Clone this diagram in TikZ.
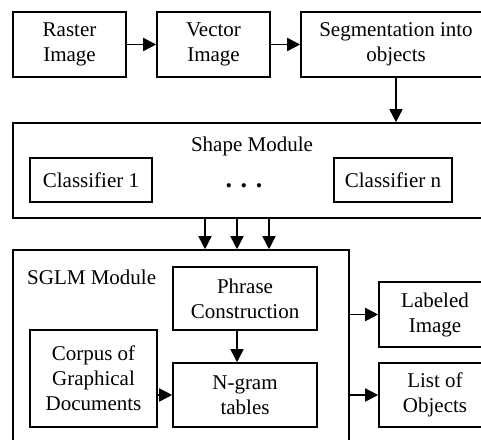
\documentclass[tikz,border=0pt]{standalone}
\usepackage{fontspec}
\setmainfont{Liberation Serif}
\newfontfamily\diagfont{Liberation Serif}
\usetikzlibrary{arrows.meta}
\begin{document}
\begin{tikzpicture}[x=1pt,y=-1pt,
  box/.style={draw, line width=1.6pt, rectangle, inner sep=0pt, align=center,
    font=\diagfont\fontsize{21}{25}\selectfont},
  lbl/.style={inner sep=0pt, font=\diagfont\fontsize{21}{25}\selectfont},
  arr/.style={line width=1.6pt, -{Triangle[length=13pt,width=13pt]}}]
\useasboundingbox (0,0) rectangle (481,439);
\fill[white] (0,0) rectangle (481,439);
\clip (0,0) rectangle (481,439);
% top row
\node[box, minimum width=113pt, minimum height=65pt] (raster) at (69.5,44.5) {Raster\\Image};
\node[box, minimum width=113pt, minimum height=65pt] (vector) at (213.5,44.5) {Vector\\Image};
\node[box, minimum width=190pt, minimum height=65pt] (seg) at (396,44.5) {Segmentation into\\objects};
% shape module
\node[box, minimum width=478pt, minimum height=95pt] (shape) at (252,170.5) {};
\node[lbl] (shapelbl) at (252,146) {Shape Module};
\node[box, minimum width=122pt, minimum height=44pt] (c1) at (91,180) {Classifier 1};
\node[box, minimum width=118pt, minimum height=44pt] (cn) at (393,180) {Classifier n};
\node[lbl, font=\diagfont\fontsize{26}{26}\selectfont\bfseries] (dots) at (244,186) {.\,\,.\,\,.};
% SGLM module
\node[box, minimum width=336pt, minimum height=210pt] (sglm) at (181,355) {};
\node[lbl, anchor=base west] (sglmlbl) at (27,284) {SGLM Module};
\node[box, minimum width=144pt, minimum height=63pt] (phrase) at (245,298.5) {Phrase\\Construction};
\node[box, minimum width=127pt, minimum height=97pt] (corpus) at (93.5,378.5) {Corpus of\\Graphical\\Documents};
\node[box, minimum width=144pt, minimum height=64pt] (ngram) at (245,395) {N-gram\\tables};
\node[box, minimum width=112pt, minimum height=65pt] (labeled) at (435,314.5) {Labeled\\Image};
\node[box, minimum width=112pt, minimum height=64pt] (list) at (435,395) {List of\\Objects};
% connectors
\draw[arr] (raster.east) -- (vector.west);
\draw[arr] (vector.east) -- (seg.west);
\draw[arr] (seg.south) -- (shape.north -| seg.south);
\draw[arr] ([xshift=-47pt]shape.south) -- ([xshift=-47pt]shape.south |- sglm.north);
\draw[arr] ([xshift=-15pt]shape.south) -- ([xshift=-15pt]shape.south |- sglm.north);
\draw[arr] ([xshift=17pt]shape.south) -- ([xshift=17pt]shape.south |- sglm.north);
\draw[arr] ([xshift=-8pt]phrase.south) -- ([xshift=-8pt]phrase.south |- ngram.north);
\draw[arr] (corpus.east |- ngram.west) -- (ngram.west);
\draw[arr] (sglm.east |- labeled.west) -- (labeled.west);
\draw[arr] (sglm.east |- list.west) -- (list.west);
\end{tikzpicture}
\end{document}
